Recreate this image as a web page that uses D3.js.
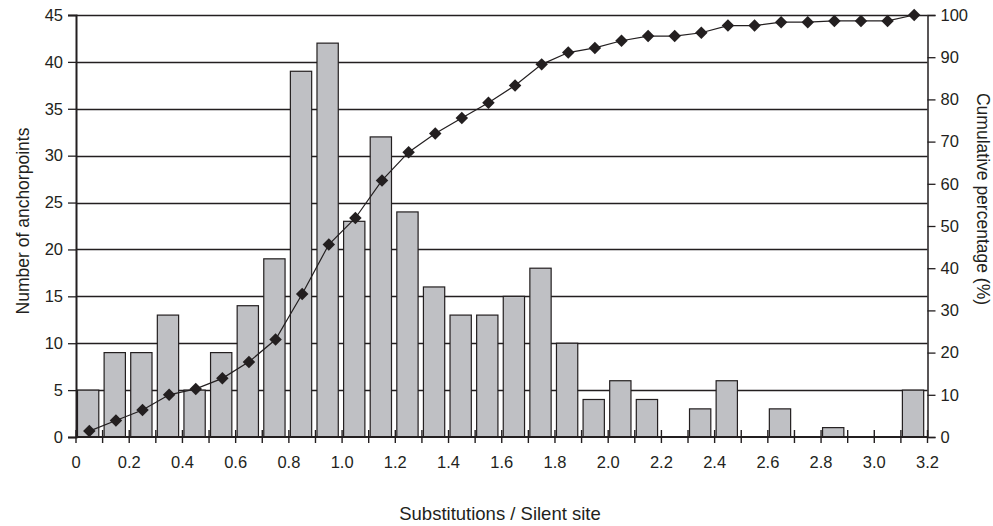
<!DOCTYPE html>
<html>
<head>
<meta charset="utf-8">
<script src="https://cdn.jsdelivr.net/npm/d3@7/dist/d3.min.js"></script>
<style>
  html, body { margin: 0; padding: 0; background: #fff; }
  svg { display: block; font-family: "Liberation Sans", Arial, sans-serif; }
</style>
</head>
<body>
<svg id="chart" width="993" height="526"></svg>
<script>
// Histogram bins (left edges) of substitutions per silent site, width 0.1
const binStarts = [0.0, 0.1, 0.2, 0.3, 0.4, 0.5, 0.6, 0.7, 0.8, 0.9,
                   1.0, 1.1, 1.2, 1.3, 1.4, 1.5, 1.6, 1.7, 1.8, 1.9,
                   2.0, 2.1, 2.2, 2.3, 2.4, 2.5, 2.6, 2.7, 2.8, 2.9,
                   3.0, 3.1];
const binWidth = 0.1;

// Number of anchorpoints in each bin
const counts = [5, 9, 9, 13, 5, 9, 14, 19, 39, 42,
                23, 32, 24, 16, 13, 13, 15, 18, 10, 4,
                6, 4, 0, 3, 6, 0, 3, 0, 1, 0,
                0, 5];

// Cumulative percentage at each bin midpoint
const cumulative = [1.4, 3.9, 6.4, 10.0, 11.4, 13.9, 17.8, 23.1, 33.9, 45.6,
                    51.9, 60.8, 67.5, 71.9, 75.6, 79.2, 83.3, 88.3, 91.1, 92.2,
                    93.9, 95.0, 95.0, 95.8, 97.5, 97.5, 98.3, 98.3, 98.6, 98.6,
                    98.6, 100.0];

const xTickLabels = ["0", "0.2", "0.4", "0.6", "0.8", "1.0", "1.2", "1.4", "1.6",
                     "1.8", "2.0", "2.2", "2.4", "2.6", "2.8", "3.0", "3.2"];
const leftTicks = [0, 5, 10, 15, 20, 25, 30, 35, 40, 45];
const rightTicks = [0, 10, 20, 30, 40, 50, 60, 70, 80, 90, 100];

const svg = d3.select("#chart");
const m = { left: 76, right: 927.5, top: 15, bottom: 437 };

const x = d3.scaleLinear().domain([0, 3.2]).range([m.left, m.right]);
const yL = d3.scaleLinear().domain([0, 45]).range([m.bottom, m.top]);
const yR = d3.scaleLinear().domain([0, 100]).range([m.bottom, m.top]);

const dark = "#231f20";
const tickFont = 16.5;
const titleFont = 17.5;

// horizontal gridlines
svg.append("g")
  .selectAll("line")
  .data(leftTicks.filter(d => d > 0))
  .join("line")
  .attr("x1", m.left).attr("x2", m.right)
  .attr("y1", d => Math.round(yL(d)) + 0.5).attr("y2", d => Math.round(yL(d)) + 0.5)
  .attr("stroke", dark).attr("stroke-width", 1.3);

// bars
const bw = x(binWidth) - x(0);
svg.append("g")
  .selectAll("rect")
  .data(binStarts.map((s, i) => ({ s, v: counts[i] })).filter(d => d.v > 0))
  .join("rect")
  .attr("x", d => x(d.s) + 1.5)
  .attr("width", bw * 0.8)
  .attr("y", d => yL(d.v))
  .attr("height", d => yL(0) - yL(d.v))
  .attr("fill", "#bfc0c4")
  .attr("stroke", dark).attr("stroke-width", 1.2);

// left axis
const leftAxis = d3.axisLeft(yL).tickValues(leftTicks).tickSize(8).tickPadding(5);
const gL = svg.append("g").attr("transform", `translate(${m.left},0)`).call(leftAxis);
gL.select(".domain").attr("stroke", dark).attr("stroke-width", 2);
gL.selectAll(".tick line").attr("stroke", dark).attr("stroke-width", 1.3);
gL.selectAll("text").attr("font-size", tickFont).attr("fill", dark)
  .attr("font-family", "Liberation Sans, Arial, sans-serif");

// right axis
const rightAxis = d3.axisRight(yR).tickValues(rightTicks).tickSize(8).tickPadding(5);
const gR = svg.append("g").attr("transform", `translate(${m.right},0)`).call(rightAxis);
gR.select(".domain").attr("stroke", dark).attr("stroke-width", 1.5);
gR.selectAll(".tick line").attr("stroke", dark).attr("stroke-width", 1.3);
gR.selectAll("text").attr("font-size", tickFont).attr("fill", dark)
  .attr("font-family", "Liberation Sans, Arial, sans-serif");

// bottom axis: tick marks every 0.1 crossing the baseline, labels every 0.2
const minorTicks = binStarts.concat([3.2]);
const gB = svg.append("g");
gB.append("line")
  .attr("x1", m.left).attr("x2", m.right)
  .attr("y1", m.bottom).attr("y2", m.bottom)
  .attr("stroke", dark).attr("stroke-width", 2);
gB.selectAll("line.tk")
  .data(minorTicks)
  .join("line").attr("class", "tk")
  .attr("x1", d => x(d)).attr("x2", d => x(d))
  .attr("y1", m.bottom - 7).attr("y2", m.bottom + 6)
  .attr("stroke", dark).attr("stroke-width", 1.4);
gB.selectAll("text")
  .data(xTickLabels)
  .join("text")
  .attr("x", d => x(+d))
  .attr("y", 468)
  .attr("text-anchor", "middle")
  .attr("font-size", tickFont).attr("fill", dark)
  .text(d => d);

// cumulative line with diamond markers
const mid = i => binStarts[i] + binWidth / 2;
const line = d3.line().x((d, i) => x(mid(i))).y(d => yR(d));
svg.append("path")
  .datum(cumulative)
  .attr("d", line)
  .attr("fill", "none")
  .attr("stroke", dark).attr("stroke-width", 1.2);

const diamond = d3.symbol().type(d3.symbolSquare).size(78);
svg.append("g")
  .selectAll("path")
  .data(cumulative)
  .join("path")
  .attr("d", diamond)
  .attr("transform", (d, i) => `translate(${x(mid(i))},${yR(d)}) rotate(45)`)
  .attr("fill", dark);

// axis titles
svg.append("text")
  .attr("transform", "translate(29,221) rotate(-90)")
  .attr("text-anchor", "middle")
  .attr("font-size", titleFont).attr("fill", dark)
  .text("Number of anchorpoints");

svg.append("text")
  .attr("transform", "translate(977,199) rotate(90)")
  .attr("text-anchor", "middle")
  .attr("font-size", titleFont).attr("fill", dark)
  .text("Cumulative percentage (%)");

svg.append("text")
  .attr("x", 500)
  .attr("y", 520)
  .attr("text-anchor", "middle")
  .attr("font-size", 18.5).attr("fill", dark)
  .text("Substitutions / Silent site");
</script>
</body>
</html>
